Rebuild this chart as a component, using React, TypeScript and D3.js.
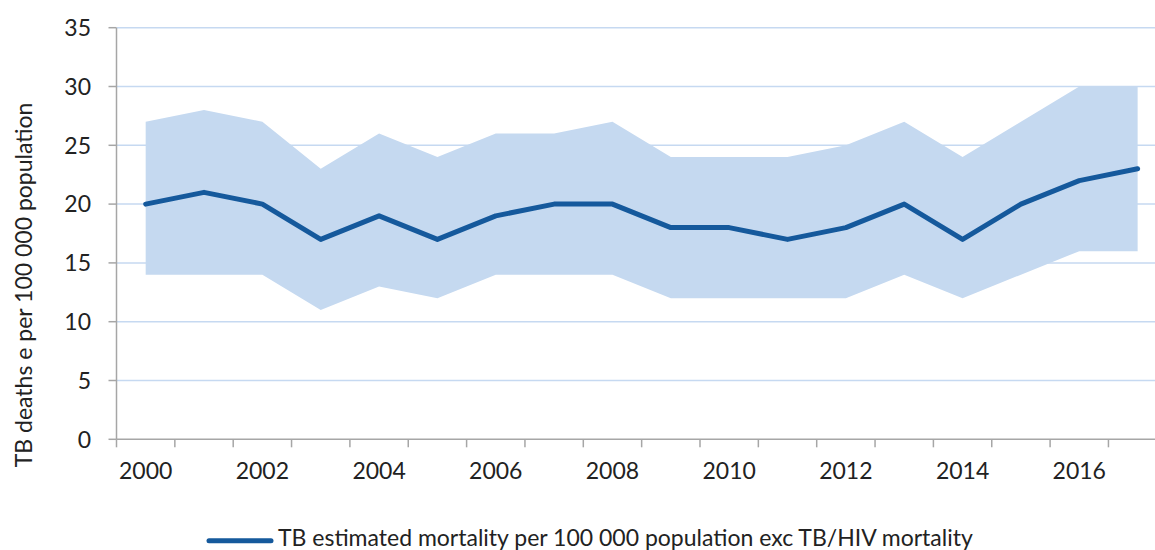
import React from "react";
import * as d3 from "d3";

const years = [2000,2001,2002,2003,2004,2005,2006,2007,2008,2009,2010,2011,2012,2013,2014,2015,2016,2017];
const mortality = [20,21,20,17,19,17,19,20,20,18,18,17,18,20,17,20,22,23];
const upper = [27,28,27,23,26,24,26,26,27,24,24,24,25,27,24,27,30,30];
const lower = [14,14,14,11,13,12,14,14,14,12,12,12,12,14,12,14,16,16];
const yTicks = [0,5,10,15,20,25,30,35];
const xLabelYears = [2000,2002,2004,2006,2008,2010,2012,2014,2016];

const W = 1155, H = 550;
const left = 116.5, bandW = 58.35;
const FONT = "Lato, 'Open Sans', sans-serif";
const FS = 23;

export default function App() {
  const x = d3.scaleBand<number>().domain(years).range([left, left + bandW * years.length]).padding(0);
  const y = d3.scaleLinear().domain([0, 35]).range([439.3, 27.7]);
  const cx = (yr: number) => (x(yr) as number) + x.bandwidth() / 2;

  const area = d3.area<number>()
    .x((_, i) => cx(years[i]))
    .y0((_, i) => y(lower[i]))
    .y1((_, i) => y(upper[i]))(years.map((_, i) => i)) || "";
  const line = d3.line<number>()
    .x((_, i) => cx(years[i]))
    .y((_, i) => y(mortality[i]))(years.map((_, i) => i)) || "";

  const right = left + bandW * years.length;
  const boundaries = years.map((yr) => x(yr) as number).concat([right]);

  return (
    <svg width={W} height={H} style={{ position: "absolute", left: 0, top: 0, background: "#fff" }}>
      <rect x={0} y={0} width={W} height={H} fill="#fff" />
      {yTicks.filter((t) => t > 0).map((t) => (
        <line key={t} x1={left} x2={right} y1={y(t)} y2={y(t)} stroke="#c6d9f1" strokeWidth={1.5} />
      ))}
      <path d={area} fill="#c5d9f0" />
      <path d={line} fill="none" stroke="#15599c" strokeWidth={5} strokeLinejoin="round" strokeLinecap="round" />
      <line x1={left} x2={left} y1={y(35)} y2={y(0)} stroke="#a6a6a6" strokeWidth={1.5} />
      <line x1={left} x2={right} y1={y(0)} y2={y(0)} stroke="#a6a6a6" strokeWidth={1.5} />
      {yTicks.map((t) => (
        <g key={t}>
          <line x1={left - 8} x2={left} y1={y(t)} y2={y(t)} stroke="#a6a6a6" strokeWidth={1.5} />
          <text x={91} y={y(t)} dy="0.36em" textAnchor="end" fontFamily={FONT} fontSize={FS} fill="#222">{t}</text>
        </g>
      ))}
      {boundaries.map((b, i) => (
        <line key={i} x1={b} x2={b} y1={y(0)} y2={y(0) + 8} stroke="#a6a6a6" strokeWidth={1.5} />
      ))}
      {xLabelYears.map((yr) => (
        <text key={yr} x={cx(yr)} y={479} textAnchor="middle" fontFamily={FONT} fontSize={FS} fill="#222">{yr}</text>
      ))}
      <text transform="translate(32,285) rotate(-90)" textAnchor="middle" fontFamily={FONT} fontSize={FS} fill="#222">
        TB deaths e per 100 000 population
      </text>
      <line x1={209} x2={271} y1={540.7} y2={540.7} stroke="#15599c" strokeWidth={5} strokeLinecap="round" />
      <text x={278} y={546} fontFamily={FONT} fontSize={FS} fill="#222">
        TB estimated mortality per 100 000 population exc TB/HIV mortality
      </text>
    </svg>
  );
}
